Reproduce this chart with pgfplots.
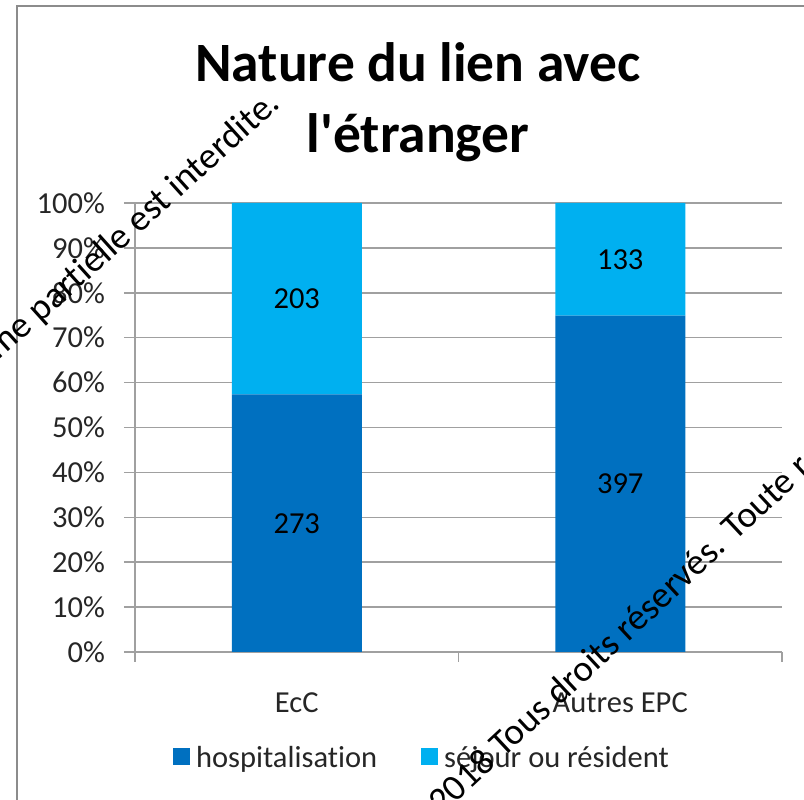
\documentclass[border=0pt]{standalone}
\usepackage{fontspec}
\setmainfont{Carlito}[Ligatures={TeX,NoCommon}]
\newfontfamily\titlefont{Carlito}
\usepackage{pgfplots}
\usepackage{pgfplotstable}
\pgfplotsset{compat=1.18}
\definecolor{hosp}{HTML}{0070C0}
\definecolor{sejour}{HTML}{00B0F0}
\definecolor{gridc}{HTML}{A0A0A0}
\definecolor{framec}{HTML}{8C8C8C}

% parts in percent of each column (counts 273/203 and 397/133)
\pgfplotstableread{
x hosp sejour
0 57.35 42.65
1 74.91 25.09
}\parts
% data labels, placed at the middle of each segment
\pgfplotstableread{
x y lab
0 28.68 273
0 78.68 203
1 37.45 397
1 87.45 133
}\labels

\newcommand\lbl{\fontsize{30.5}{36}\selectfont}

\begin{document}
\begin{tikzpicture}[x=1pt,y=1pt]
\useasboundingbox (0,0) rectangle (804,800);
\begin{scope}
\clip (0,0) rectangle (804,800);
\draw[framec, line width=2.5pt] (17,-5) -- (17,794) -- (810,794);
\end{scope}

\node[font=\fontsize{55.5}{62}\titlefont\bfseries, anchor=base] at (418,718) {Nature du lien avec};
\node[font=\fontsize{55.5}{62}\titlefont\bfseries, anchor=base] at (418,647) {l'étranger};

\begin{axis}[
  at={(135pt,148pt)}, anchor=south west,
  scale only axis, width=647pt, height=449pt,
  ybar stacked, bar width=130pt,
  xmin=-0.5, xmax=1.5, ymin=0, ymax=100,
  axis x line*=bottom, axis y line*=left,
  axis line style={gridc, line width=1.5pt},
  xtick={0,1}, xticklabels={EcC,Autres EPC},
  minor xtick={-0.5,0.5,1.5},
  major x tick style={draw=none},
  minor x tick style={gridc, line width=1.5pt},
  ytick={0,10,...,100},
  yticklabels={0\%,10\%,20\%,30\%,40\%,50\%,60\%,70\%,80\%,90\%,100\%},
  y tick style={gridc, line width=1.5pt},
  tick align=outside,
  major tick length=11pt, minor tick length=10pt,
  ymajorgrids, major grid style={gridc, line width=1.5pt},
  tick label style={font=\lbl, text=black!85},
  xticklabel style={anchor=base, yshift=-50pt},
  yticklabel style={anchor=east, inner sep=0pt, xshift=-19pt},
  legend columns=2,
  legend style={draw=none, fill=none, at={(0.054,-0.236)}, anchor=west,
    font=\lbl, text=black!85, nodes={inner sep=6pt},
    /tikz/every even column/.append style={column sep=38pt}},
]
\addplot[fill=hosp, draw=none,
  legend image code/.code={\fill[hosp] (0pt,-7pt) rectangle (17pt,10pt);}]
  table[x=x, y=hosp]{\parts};
\addlegendentry{hospitalisation}
\addplot[fill=sejour, draw=none,
  legend image code/.code={\fill[sejour] (0pt,-7pt) rectangle (17pt,10pt);}]
  table[x=x, y=sejour]{\parts};
\addlegendentry{séjour ou résident}
\end{axis}

\begin{axis}[
  at={(135pt,148pt)}, anchor=south west,
  scale only axis, width=647pt, height=449pt,
  xmin=-0.5, xmax=1.5, ymin=0, ymax=100, hide axis,
]
\addplot[draw=none, nodes near coords, point meta=explicit symbolic,
  nodes near coords style={anchor=center, font=\lbl, text=black}]
  table[x=x, y=y, meta=lab]{\labels};
\end{axis}

\begin{scope}
\clip (0,0) rectangle (804,800);
\node[font=\fontsize{37}{44}\selectfont, rotate=42, anchor=base east, inner sep=0pt]
  at (282,694) {Toute reproduction même partielle est interdite.};
\node[font=\fontsize{37}{44}\selectfont, rotate=43, anchor=base west, inner sep=0pt]
  at (442,-16) {2018 Tous droits réservés. Toute reproduction};
\end{scope}
\end{tikzpicture}
\end{document}
